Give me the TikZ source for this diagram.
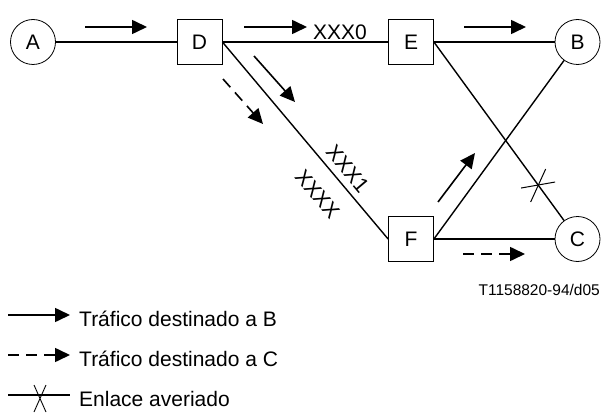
\documentclass[tikz,border=0pt]{standalone}
\usepackage{fontspec}
\setmainfont{Liberation Sans}
\usepackage{tikz}
\usetikzlibrary{arrows.meta,calc}

\begin{document}
\begin{tikzpicture}[x=1pt,y=-1pt,font=\fontsize{21}{25}\selectfont,
  station/.style={draw,circle,line width=0.8pt,minimum size=45pt,inner sep=0pt},
  switch/.style={draw,line width=0.8pt,minimum size=45pt,inner sep=0pt},
  link/.style={line width=1.4pt},
  flow/.style={-{Triangle[length=15pt,width=14pt]},line width=1.6pt},
  flowc/.style={flow,dash pattern=on 11pt off 7pt}]
\useasboundingbox (0,0) rectangle (602,417);

\node (A) at (33,42) [station] {A};
\node (D) at (199.5,42) [switch] {D};
\node (E) at (411,42) [switch] {E};
\node (B) at (577.5,42) [station] {B};
\node (F) at (411,239) [switch] {F};
\node (C) at (577.5,239) [station] {C};

% links
\draw[link] (A) -- (D);
\draw[link] (D) -- node[above,pos=0.71,inner sep=2pt] {XXX0} (E);
\draw[link] (E) -- (B);
\draw[link] (D.east) -- node[sloped,pos=0.69,above=3pt] {XXX1}
  node[sloped,pos=0.69,below=14pt] {XXXX} (F.west);
\draw[link] (E.east) -- (C);
\draw[link] (F.east) -- (B);
\draw[link] (F) -- (C);

% broken link
\coordinate (fault) at ($(E.east)!0.726!(C)$);
\draw[line width=1pt] ($(fault)+(-17,3)$) -- ($(fault)+(17,-3)$);
\draw[line width=1pt] ($(fault)+(7.5,-16)$) -- ($(fault)+(-7.5,17)$);

% traffic
\draw[flow] (85,27) -- (147,27);
\draw[flow] (244,27) -- (307,27);
\draw[flow] (464,27) -- (526,27);
\draw[flow] (254,56) -- (295,102);
\draw[flowc] (223,79) -- (263,124);
\draw[flow] (438,202) -- (475,153);
\draw[flowc] (463,254) -- (525,254);

\node (ref) at (600,290) [anchor=east,inner sep=0pt,font=\fontsize{15.5}{18}\selectfont] {T1158820-94/d05};

% legend
\draw[flow] (8,315) -- (70,315);
\node (lb) at (79,326.5) [anchor=base west,inner sep=0pt] {Tráfico destinado a B};
\draw[flowc] (8,355) -- (70,355);
\node (lc) at (79,366.5) [anchor=base west,inner sep=0pt] {Tráfico destinado a C};
\draw[link] (8,395) -- (70,395);
\draw[line width=0.9pt] (34,385) -- (46,412) (46,385) -- (34,412);
\node (lx) at (79,406.5) [anchor=base west,inner sep=0pt] {Enlace averiado};
\end{tikzpicture}
\end{document}
